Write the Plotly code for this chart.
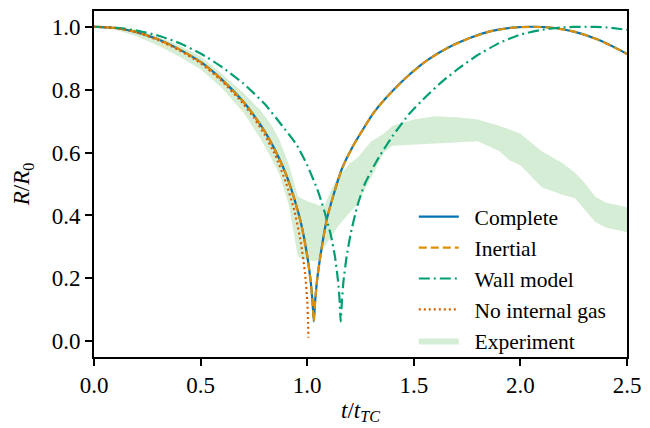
import plotly.graph_objects as go

# ---- data ----
t_complete = [0.0, 0.1, 0.2, 0.3, 0.4, 0.5, 0.6, 0.7, 0.75, 0.8, 0.85, 0.9, 0.94, 0.97, 1.0, 1.015, 1.025, 1.031,
              1.037, 1.047, 1.062, 1.092, 1.122, 1.162, 1.212, 1.262, 1.312, 1.362, 1.462, 1.562, 1.662, 1.762,
              1.862, 1.962, 2.06, 2.16, 2.26, 2.36, 2.46, 2.5]
r_complete = [1.0, 0.996, 0.983, 0.96, 0.928, 0.888, 0.832, 0.762, 0.718, 0.668, 0.607, 0.532, 0.452, 0.378, 0.272, 0.198, 0.125, 0.063,
              0.125, 0.198, 0.272, 0.388, 0.462, 0.547, 0.617, 0.674, 0.727, 0.768, 0.837, 0.893, 0.934, 0.964,
              0.986, 0.997, 1.0, 0.996, 0.983, 0.96, 0.928, 0.913]

t_inertial = [0.0, 0.1, 0.2, 0.3, 0.4, 0.5, 0.6, 0.7, 0.75, 0.8, 0.85, 0.9, 0.94, 0.97, 1.0, 1.015, 1.025, 1.031,
              1.037, 1.047, 1.062, 1.092, 1.122, 1.162, 1.212, 1.262, 1.312, 1.362, 1.462, 1.562, 1.662, 1.762,
              1.862, 1.962, 2.06, 2.16, 2.26, 2.36, 2.46, 2.5]
r_inertial = [1.0, 0.996, 0.983, 0.96, 0.928, 0.888, 0.832, 0.762, 0.718, 0.668, 0.607, 0.532, 0.452, 0.378, 0.272, 0.198, 0.125, 0.063,
              0.125, 0.198, 0.272, 0.388, 0.462, 0.547, 0.617, 0.674, 0.727, 0.768, 0.837, 0.893, 0.934, 0.964,
              0.986, 0.997, 1.0, 0.996, 0.983, 0.96, 0.928, 0.913]

t_wall = [0.0, 0.1, 0.2, 0.3, 0.4, 0.5, 0.6, 0.7, 0.8, 0.877, 0.95, 1.0, 1.05, 1.08, 1.11, 1.13, 1.145, 1.152, 1.157,
          1.163, 1.17, 1.185, 1.205, 1.235, 1.27, 1.33, 1.4, 1.48, 1.56, 1.637, 1.72, 1.793, 1.9, 2.0, 2.1,
          2.2, 2.3, 2.4, 2.5]
r_wall = [1.0, 0.997, 0.988, 0.972, 0.948, 0.915, 0.872, 0.82, 0.755, 0.69, 0.625, 0.56, 0.478, 0.415, 0.34, 0.27, 0.19, 0.13, 0.063,
          0.13, 0.19, 0.27, 0.345, 0.43, 0.5, 0.578, 0.652, 0.724, 0.78, 0.828, 0.872, 0.907, 0.948, 0.975, 0.99,
          0.998, 1.0, 0.998, 0.99]

t_nogas = [0.0, 0.1, 0.2, 0.3, 0.4, 0.5, 0.6, 0.7, 0.75, 0.8, 0.85, 0.9, 0.94, 0.97, 0.99, 1.0, 1.004, 1.006]
r_nogas = [1.0, 0.996, 0.982, 0.958, 0.925, 0.884, 0.827, 0.755, 0.71, 0.657, 0.592, 0.505, 0.415, 0.315, 0.215, 0.13, 0.06, 0.011]

t_exp = [0.0, 0.1, 0.2, 0.3, 0.4, 0.5, 0.6, 0.7, 0.78, 0.83, 0.87, 0.915, 0.956, 0.972, 1.0, 1.03, 1.057,
         1.08, 1.111, 1.142, 1.2, 1.235, 1.3, 1.359, 1.4, 1.5, 1.6, 1.7, 1.8, 1.9, 1.95, 2.0, 2.1, 2.2,
         2.256, 2.3, 2.35, 2.4, 2.45, 2.5]
r_exp_low = [0.997, 0.99, 0.97, 0.94, 0.905, 0.865, 0.805, 0.728, 0.645, 0.584, 0.53, 0.43, 0.27, 0.262, 0.258, 0.255, 0.258,
             0.30, 0.33, 0.363, 0.41, 0.436, 0.52, 0.60, 0.622, 0.625, 0.628, 0.632, 0.636, 0.605, 0.575, 0.56, 0.49, 0.465,
             0.455, 0.42, 0.38, 0.362, 0.355, 0.347]
r_exp_high = [1.003, 1.0, 0.99, 0.968, 0.94, 0.905, 0.85, 0.79, 0.735, 0.69, 0.64, 0.56, 0.462, 0.455, 0.445, 0.438, 0.432,
              0.431, 0.478, 0.52, 0.565, 0.583, 0.635, 0.66, 0.685, 0.705, 0.715, 0.712, 0.705, 0.685, 0.673, 0.66, 0.604, 0.565,
              0.536, 0.505, 0.46, 0.441, 0.434, 0.426]

series_names = ["Complete", "Inertial", "Wall model", "No internal gas", "Experiment"]

x_ticks = [0.0, 0.5, 1.0, 1.5, 2.0, 2.5]
y_ticks = [0.0, 0.2, 0.4, 0.6, 0.8, 1.0]

FONT = "Liberation Serif"
FS = 23
LFS = 21.5
PAD = "\u00a0\u00a0"

fig = go.Figure()

# experiment band (polygon)
fig.add_trace(go.Scatter(
    x=t_exp + t_exp[::-1], y=r_exp_low + r_exp_high[::-1],
    fill="toself", fillcolor="rgba(44,160,44,0.2)", line=dict(width=0),
    mode="lines", name=PAD + series_names[4], legendrank=2000, hoverinfo="skip"))

spl = dict(shape="spline", smoothing=0.5)
fig.add_trace(go.Scatter(x=t_complete, y=r_complete, mode="lines", name=PAD + series_names[0],
                         line=dict(color="#0173B2", width=2.2, **spl), legendrank=1))
fig.add_trace(go.Scatter(x=t_inertial, y=r_inertial, mode="lines", name=PAD + series_names[1],
                         line=dict(color="#DE8F05", width=2.2, dash="8px,4px", **spl), legendrank=2))
fig.add_trace(go.Scatter(x=t_wall, y=r_wall, mode="lines", name=PAD + series_names[2],
                         line=dict(color="#029E73", width=2.2, dash="11px,4px,2px,4px", **spl), legendrank=3))
fig.add_trace(go.Scatter(x=t_nogas, y=r_nogas, mode="lines", name=PAD + series_names[3],
                         line=dict(color="#D55E00", width=2.2, dash="2px,3px", **spl), legendrank=4))

axis_common = dict(
    showgrid=False, zeroline=False, showline=True, linecolor="black", linewidth=1.6, mirror=True,
    ticks="outside", ticklen=7, tickwidth=1.6, tickcolor="black",
    tickfont=dict(family=FONT, size=FS, color="black"),
)

fig.update_xaxes(range=[0, 2.5], tickvals=x_ticks, ticktext=[f"{v:.1f}" for v in x_ticks],
                 title=dict(text="<i>t</i>/<i>t</i><sub><i>TC</i></sub>", font=dict(family=FONT, size=FS, color="black"), standoff=4),
                 **axis_common)
fig.update_yaxes(range=[-0.05, 1.05], tickvals=y_ticks, ticktext=[f"{v:.1f}" for v in y_ticks],
                 title=dict(text="<i>R</i>/<i>R</i><sub>0</sub>", font=dict(family=FONT, size=FS, color="black"), standoff=16),
                 **axis_common)

fig.update_layout(
    width=650, height=428,
    margin=dict(l=94, r=18, t=9, b=70),
    plot_bgcolor="white", paper_bgcolor="white",
    font=dict(family=FONT, size=FS, color="black"),
    showlegend=True,
    legend=dict(x=0.6, y=0.465, xanchor="left", yanchor="top", bgcolor="rgba(0,0,0,0)",
                borderwidth=0, font=dict(family=FONT, size=LFS, color="black"), traceorder="normal",
                itemwidth=40),
)

fig.write_html("out.html", config={"displayModeBar": False},
               post_script="document.body.style.margin='0px';")
